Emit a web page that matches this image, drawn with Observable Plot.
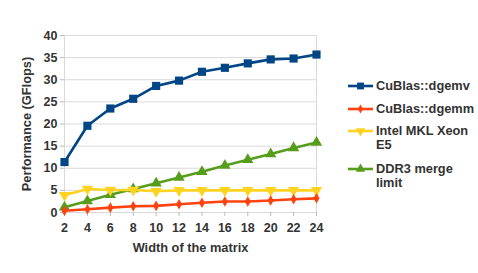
<!DOCTYPE html>
<html><head><meta charset="utf-8">
<script src="https://cdn.jsdelivr.net/npm/d3@7"></script>
<script src="https://cdn.jsdelivr.net/npm/@observablehq/plot@0.6"></script>
<style>
body{margin:0;background:#fff;font-family:"Liberation Sans",Arial,sans-serif;}
#wrap{position:relative;width:478px;height:273px;}
#legend{position:absolute;left:348px;top:0;font:bold 12.8px "Liberation Sans",Arial,sans-serif;color:#333;}
.item{position:absolute;left:0;white-space:nowrap;}
.item svg{position:absolute;left:0;top:0;}
.item span{position:absolute;left:28px;top:0;line-height:14px;}
</style></head>
<body><div id="wrap"><div id="legend"></div></div>
<script>
const widths = [2,4,6,8,10,12,14,16,18,20,22,24];
const seriesNames = ["CuBlas::dgemv","CuBlas::dgemm","Intel MKL Xeon E5","DDR3 merge limit"];
const dgemv = [11.4,19.6,23.5,25.7,28.6,29.8,31.8,32.7,33.7,34.6,34.8,35.7];
const dgemm = [0.4,0.75,1.1,1.4,1.5,1.85,2.2,2.5,2.5,2.7,3.0,3.2];
const intel = [3.9,5.3,5.1,5.1,4.8,5.0,5.0,5.0,5.0,5.0,5.0,5.0];
const ddr3 = [1.2,2.6,4.0,5.3,6.6,7.9,9.2,10.6,11.9,13.2,14.6,15.8];
const yTicks = [0,5,10,15,20,25,30,35,40];
const colors = ["#004586","#ff420e","#ffd320","#579d1c"];
const symbols = ["square","diamond","triangle","triangle"];
const rotations = [0,0,180,0];
const sizes = [4.6,3.2,4.2,4.2];

const allSeries = [dgemv,dgemm,intel,ddr3];
const data = [];
allSeries.forEach((vals,i)=>vals.forEach((v,j)=>data.push({s:seriesNames[i], x:widths[j], y:v, i})));

const marks = [
  Plot.ruleY(yTicks,{stroke:"#d9d9d9",strokeWidth:1}),
  Plot.ruleX([2,24],{stroke:"#d9d9d9",strokeWidth:1}),
  Plot.axisY({ticks:yTicks, tickSize:4, tickPadding:3, stroke:"#bbb", fill:"#333", fontWeight:"bold", fontSize:12.5, label:"Performance (GFlops)", labelAnchor:"center", labelArrow:false, labelOffset:43}),
  Plot.axisX({ticks:widths, tickSize:4, tickPadding:7, stroke:"#bbb", fill:"#333", fontWeight:"bold", fontSize:12.5, label:"Width of the matrix", labelAnchor:"center", labelArrow:false, labelOffset:39}),
];
[3,2,1,0].forEach(i=>{
  const d = data.filter(r=>r.i===i);
  marks.push(Plot.line(d,{x:"x",y:"y",stroke:colors[i],strokeWidth:2.6}));
  marks.push(Plot.dot(d,{x:"x",y:"y",symbol:()=>symbols[i],fill:colors[i],stroke:"none",r:sizes[i],rotate:rotations[i]}));
});

const chart = Plot.plot({
  width:478, height:273,
  marginLeft:64, marginRight:162, marginTop:35, marginBottom:61,
  style:{fontFamily:"'Liberation Sans',Arial,sans-serif",color:"#333",background:"#fff",overflow:"visible"},
  x:{domain:[2,24]},
  y:{domain:[0,40]},
  symbol:{type:"identity"},
  marks
});
chart.querySelectorAll("[aria-label='y-axis label'] text, [aria-label='x-axis label'] text").forEach(t=>{t.setAttribute("font-weight","bold");t.setAttribute("font-size","12.8");t.setAttribute("fill","#333");});
document.getElementById("wrap").prepend(chart);

// legend
const legendLines = [["CuBlas::dgemv"],["CuBlas::dgemm"],["Intel MKL Xeon","E5"],["DDR3 merge","limit"]];
const legendTops = [79,102,124,162];
const leg = d3.select("#legend");
legendLines.forEach((lines,i)=>{
  const item = leg.append("div").attr("class","item").style("top",legendTops[i]+"px");
  const svg = item.append("svg").attr("width",26).attr("height",14);
  svg.append("line").attr("x1",0).attr("x2",25).attr("y1",7).attr("y2",7).attr("stroke",colors[i]).attr("stroke-width",2.6);
  const symType = {square:d3.symbolSquare,diamond:d3.symbolDiamond,triangle:d3.symbolTriangle}[symbols[i]];
  svg.append("path").attr("d",d3.symbol(symType, Math.PI*sizes[i]*sizes[i]*0.7)())
    .attr("transform",`translate(12.5,7) rotate(${rotations[i]})`).attr("fill",colors[i]);
  item.append("span").html(lines.join("<br>"));
});
</script></body></html>
